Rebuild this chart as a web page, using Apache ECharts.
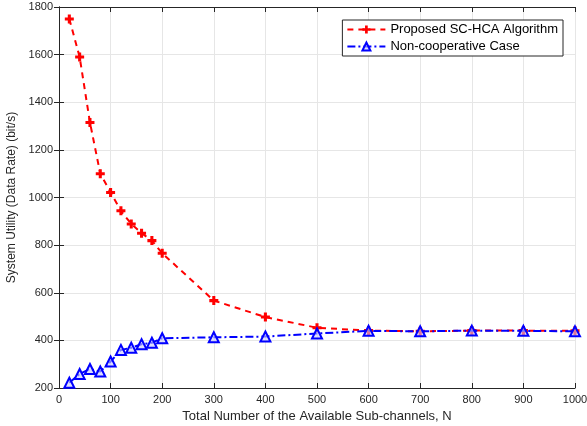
<!DOCTYPE html>
<html><head><meta charset="utf-8">
<script src="https://cdn.jsdelivr.net/npm/echarts@6/dist/echarts.min.js"></script>
<style>html,body{margin:0;padding:0;background:#fff}#c{width:587px;height:426px}</style>
</head><body><div id="c"></div>
<script>
const xValues = [20,40,60,80,100,120,140,160,180,200,300,400,500,600,700,800,900,1000];
const proposed = [1750,1590,1315,1100,1021,944,889,850,819,766,567,498,453,441,438,441,441,440];
const noncoop = [222,259,280,269,311,360,369,384,390,409,413,416,429,440,438,441,440,438];
const seriesNames = ['Proposed SC-HCA Algorithm','Non-cooperative Case'];
const xTicks = [0,100,200,300,400,500,600,700,800,900,1000];
const yTicks = [200,400,600,800,1000,1200,1400,1600,1800];

const font = 'Liberation Sans, Arial, sans-serif';
const chart = echarts.init(document.getElementById('c'));
const plus = 'path://M3.3,0H6.7V3.3H10V6.7H6.7V10H3.3V6.7H0V3.3H3.3Z';
const axisCommon = {
  axisLine:{show:true,lineStyle:{color:'#262626',width:1}},
  axisTick:{show:true,inside:true,length:5,lineStyle:{color:'#262626'}},
};
chart.setOption({
  animation:false,
  grid:{left:59,right:12,top:7,bottom:38,containLabel:false,outerBoundsMode:'none'},
  legend:{
    right:24, top:20, orient:'vertical', itemWidth:38, itemHeight:10, itemGap:4,
    borderColor:'#262626', borderWidth:1, backgroundColor:'#fff', padding:[3,5,3,4],
    textStyle:{fontFamily:font,fontSize:13,color:'#000'},
    data:seriesNames
  },
  xAxis:[
    Object.assign({type:'value',min:0,max:1000,interval:100,
      axisLabel:{fontFamily:font,fontSize:11,color:'#262626',margin:6,formatter:v=>String(v)},
      splitLine:{show:true,lineStyle:{color:'#e6e6e6'}},
      name:'Total Number of the Available Sub-channels, N',nameLocation:'middle',nameGap:20,
      nameTextStyle:{fontFamily:font,fontSize:13,color:'#262626'}},axisCommon),
    Object.assign({type:'value',min:0,max:1000,interval:100,position:'top',axisLabel:{show:false},splitLine:{show:false}},axisCommon)
  ],
  yAxis:[
    Object.assign({type:'value',min:200,max:1800,interval:200,
      axisLabel:{fontFamily:font,fontSize:11,color:'#262626',margin:6,formatter:v=>String(v)},
      splitLine:{show:true,lineStyle:{color:'#e6e6e6'}},
      name:'System Utility (Data Rate) (bit/s)',nameLocation:'middle',nameGap:41,
      nameTextStyle:{fontFamily:font,fontSize:12,color:'#262626'}},axisCommon),
    Object.assign({type:'value',min:200,max:1800,interval:200,position:'right',axisLabel:{show:false},splitLine:{show:false}},axisCommon)
  ],
  series:[
    {name:seriesNames[0],type:'line',data:xValues.map((x,i)=>[x,proposed[i]]),
     symbol:plus,symbolSize:9,color:'#ff0000',
     lineStyle:{color:'#ff0000',width:2,type:[6,5]},
     itemStyle:{color:'#ff0000'},z:2},
    {name:seriesNames[1],type:'line',data:xValues.map((x,i)=>[x,noncoop[i]]),
     symbol:'triangle',symbolSize:10,color:'#0000ff',
     lineStyle:{color:'#0000ff',width:2,type:[8,3,2,3]},
     itemStyle:{color:'rgba(200,200,255,0.6)',borderColor:'#0000ff',borderWidth:2},z:3}
  ]
});
</script></body></html>
